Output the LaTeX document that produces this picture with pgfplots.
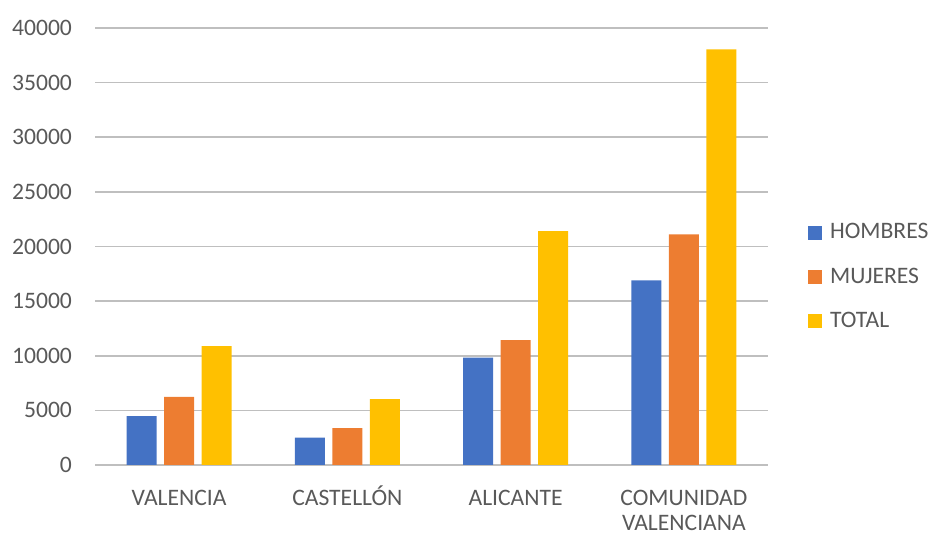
\documentclass[border=0pt]{standalone}
\usepackage{pgfplots}
\pgfplotsset{compat=1.18}
\usepackage{fontspec}
\setmainfont{Carlito}
\definecolor{hombres}{RGB}{68,114,196}
\definecolor{mujeres}{RGB}{237,125,49}
\definecolor{total}{RGB}{255,192,0}
\definecolor{txt}{RGB}{89,89,89}
\definecolor{grid}{RGB}{217,217,217}
\begin{document}
\begin{tikzpicture}[x=1pt,y=1pt]
\useasboundingbox (0,0) rectangle (465,266.5);
\begin{axis}[
  at={(47.5pt,34pt)}, anchor=south west,
  scale only axis,
  width=336.5pt, height=218.5pt,
  ybar, bar width=0.178,
  xmin=-0.5, xmax=3.5,
  ymin=0, ymax=40000,
  axis line style={draw=none},
  xmajorgrids=false, ymajorgrids=true,
  grid style={grid, line width=0.8pt},
  major tick length=0pt,
  scaled y ticks=false,
  xtick={0,1,2,3},
  xticklabels={VALENCIA,CASTELLÓN,ALICANTE,{\begin{tabular}[t]{@{}c@{}}COMUNIDAD\\VALENCIANA\end{tabular}}},
  xticklabel style={text=txt, font=\fontsize{11.8}{12.2}\selectfont, anchor=base, inner sep=0pt, yshift=-20.5pt},
  ytick={0,5000,...,40000},
  yticklabels={0,5000,10000,15000,20000,25000,30000,35000,40000},
  yticklabel style={text=txt, font=\fontsize{11.8}{12.8}\selectfont, xshift=-8pt},
  legend style={at={(1.059,0.43)}, anchor=west, draw=none, fill=none,
    font=\fontsize{11.8}{12.8}\selectfont, text=txt,
    row sep=9pt, inner sep=0pt, nodes={inner xsep=4pt}},
  legend cell align=left,
  legend image code/.code={\fill[#1] (0pt,-3.5pt) rectangle (7pt,3.5pt);},
]
\addplot[draw=none, fill=hombres, bar shift=-0.223] coordinates {(0,4470) (1,2510) (2,9820) (3,16890)};
\addplot[draw=none, fill=mujeres, bar shift=0] coordinates {(0,6240) (1,3370) (2,11440) (3,21100)};
\addplot[draw=none, fill=total, bar shift=0.223] coordinates {(0,10890) (1,6030) (2,21410) (3,38050)};
\legend{HOMBRES,MUJERES,TOTAL}
\end{axis}
\end{tikzpicture}
\end{document}
